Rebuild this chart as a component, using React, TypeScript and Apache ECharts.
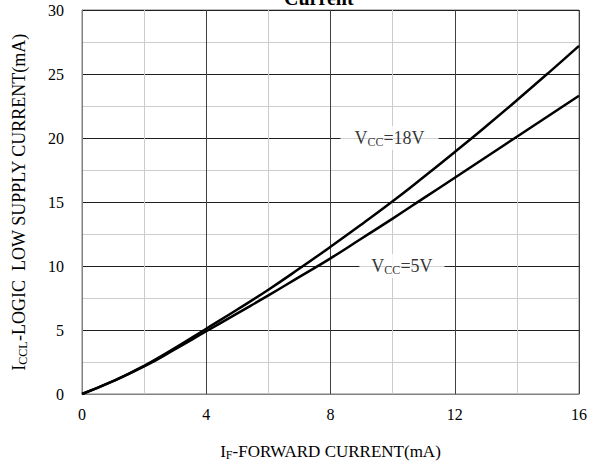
import React, { useEffect, useRef } from "react";
import * as echarts from "echarts";

const xValues = [0, 1, 2, 3, 4, 5, 6, 7, 8, 9, 10, 11, 12, 13, 14, 15, 16];
const vcc18 = [0, 1.0, 2.2, 3.6, 5.1, 6.6, 8.15, 9.8, 11.5, 13.25, 15.05, 16.95, 18.9, 20.9, 22.95, 25.05, 27.2];
const vcc5 = [0, 1.0, 2.15, 3.5, 4.9, 6.3, 7.7, 9.15, 10.6, 12.15, 13.7, 15.3, 16.9, 18.5, 20.1, 21.7, 23.3];
const curveLabels = [
  { text: "=18V", x: 9.9, y: 20, pad: 14 },
  { text: "=5V", x: 10.3, y: 10, pad: 12 },
];

const SERIF = "'Liberation Serif', 'Times New Roman', serif";

export default function App() {
  const ref = useRef<HTMLDivElement>(null);
  useEffect(() => {
    if (!ref.current) return;
    const chart = echarts.init(ref.current, undefined, { renderer: "svg" });
    const toPairs = (ys: number[]) => xValues.map((x, i) => [x, ys[i]]);
    chart.setOption({
      animation: false,
      backgroundColor: "#fff",
      graphic: [
        {
          type: "text",
          left: 284,
          top: -12,
          style: { text: "Current", font: `bold 20px ${SERIF}`, fill: "#000" },
        },
      ],
      grid: {
        left: 82,
        right: 10,
        top: 10,
        bottom: 71,
        show: true,
        borderColor: "#808080",
        borderWidth: 1,
      },
      xAxis: {
        type: "value",
        min: 0,
        max: 16,
        interval: 4,
        axisLine: { show: true, lineStyle: { color: "#808080" } },
        axisTick: { show: false },
        axisLabel: { fontFamily: SERIF, fontSize: 16, color: "#000", margin: 12 },
        splitLine: { show: true, lineStyle: { color: "#404040", width: 1 } },
        minorTick: { show: false, splitNumber: 2 },
        minorSplitLine: { show: true, lineStyle: { color: "#cccccc", width: 1 } },
        name: "{a|I}{s|F}{a|-FORWARD CURRENT(mA)}",
        nameLocation: "middle",
        nameGap: 47,
        nameTextStyle: {
          rich: {
            a: { fontFamily: SERIF, fontSize: 17, color: "#000" },
            s: { fontFamily: SERIF, fontSize: 12, color: "#000", padding: [8, 0, 0, 0] },
          },
        },
      },
      yAxis: {
        type: "value",
        min: 0,
        max: 30,
        interval: 5,
        axisLine: { show: true, lineStyle: { color: "#808080" } },
        axisTick: { show: false },
        axisLabel: { fontFamily: SERIF, fontSize: 16, color: "#000", margin: 18 },
        splitLine: { show: true, lineStyle: { color: "#202020", width: 1 } },
        minorTick: { show: false, splitNumber: 2 },
        minorSplitLine: { show: true, lineStyle: { color: "#cccccc", width: 1 } },
        name: "{a|I}{s|CCL}{a|-LOGIC  LOW SUPPLY CURRENT(mA)}",
        nameLocation: "middle",
        nameGap: 53,
        nameTextStyle: {
          rich: {
            a: { fontFamily: SERIF, fontSize: 18, color: "#000" },
            s: { fontFamily: SERIF, fontSize: 12, color: "#000", padding: [8, 0, 0, 0] },
          },
        },
      },
      series: [
        {
          type: "line",
          data: toPairs(vcc18),
          smooth: 0.5,
          symbol: "none",
          lineStyle: { color: "#000", width: 2.5 },
          z: 3,
        },
        {
          type: "line",
          data: toPairs(vcc5),
          smooth: 0.5,
          symbol: "none",
          lineStyle: { color: "#000", width: 2.5 },
          z: 3,
        },
        {
          type: "scatter",
          symbolSize: 0,
          z: 5,
          data: curveLabels.map((l) => ({
            value: [l.x, l.y],
            label: {
              show: true,
              position: "inside",
              formatter: `{a|V}{s|CC}{a|${l.text}}`,
              backgroundColor: "#fff",
              padding: [2, l.pad, 2, l.pad],
              rich: {
                a: { fontFamily: SERIF, fontSize: 18, color: "#000" },
                s: { fontFamily: SERIF, fontSize: 12, color: "#000", padding: [8, 0, 0, 0] },
              },
            },
          })),
        },
      ],
    });
    return () => chart.dispose();
  }, []);
  return <div ref={ref} style={{ width: 590, height: 466, position: "absolute", left: 0, top: 0 }} />;
}
